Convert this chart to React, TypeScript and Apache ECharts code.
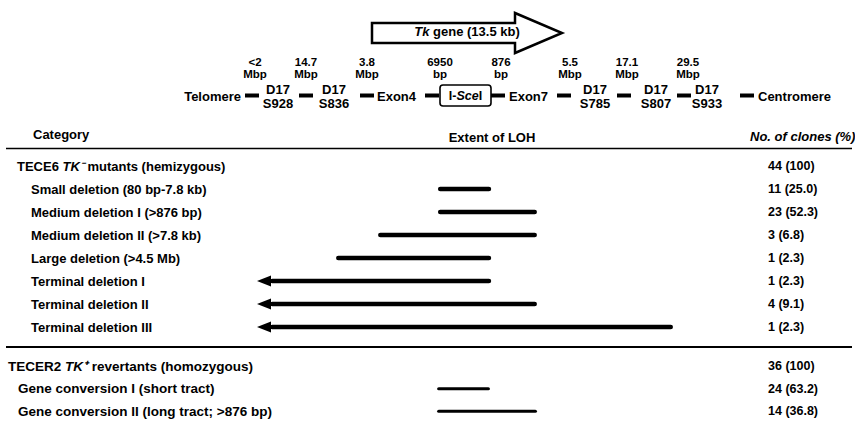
import { useEffect, useRef } from "react";
import * as echarts from "echarts";

// ---------- data ----------
const mutantRows = [
  "TECE6 TK⁻ mutants (hemizygous)",
  "Small deletion (80 bp-7.8 kb)",
  "Medium deletion I (>876 bp)",
  "Medium deletion II (>7.8 kb)",
  "Large deletion (>4.5 Mb)",
  "Terminal deletion I",
  "Terminal deletion II",
  "Terminal deletion III",
];
const mutantClones = ["44 (100)", "11 (25.0)", "23 (52.3)", "3 (6.8)", "1 (2.3)", "1 (2.3)", "4 (9.1)", "1 (2.3)"];
// extent of LOH along the map (0 = telomeric arrow tip, 100 = far end)
const mutantFrom = [null, 43.5, 43.5, 29.1, 19.0, 0, 0, 0];
const mutantTo = [null, 56.3, 67.3, 67.3, 56.3, 56.3, 67.3, 100];
const mutantTerminal = [0, 0, 0, 0, 0, 1, 1, 1];

const revertantRows = [
  "TECER2 TK⁺ revertants (homozygous)",
  "Gene conversion I (short tract)",
  "Gene conversion II (long tract; >876 bp)",
];
const revertantClones = ["36 (100)", "24 (63.2)", "14 (36.8)"];
const revertantFrom = [null, 43.3, 43.3];
const revertantTo = [null, 56.0, 67.3];

const distanceValues = ["<2", "14.7", "3.8", "6950", "876", "5.5", "17.1", "29.5"];
const distanceUnits = ["Mbp", "Mbp", "Mbp", "bp", "bp", "Mbp", "Mbp", "Mbp"];
const markerNames = ["D17 S928", "D17 S836", "D17 S785", "D17 S807", "D17 S933"];
const geneTitle = ["Tk", " gene (13.5 kb)"];
const columnTitles = ["Category", "Extent of LOH", "No. of clones (%)"];

// ---------- layout ----------
const FONT = '"Liberation Sans", Arial, Helvetica, sans-serif';
const GRID_LEFT = 257;
const GRID_RIGHT = 182;
const distanceX = [255, 306, 367, 440, 501, 570, 627, 688];
const dashX = [245, 299, 360, 425, 491, 557, 617, 677, 740];
const markerX = [278, 334, 595, 656, 707];

function headerRich(s: string) {
  const m = s.match(/^(.*?)(TK.)(.*)$/);
  if (!m) return `{h|${s}}`;
  return `{h|${m[1]}}{hi|${m[2]}}{h|${m[3]}}`;
}

function txt(text: string, x: number, y: number, size: number, align = "left", extra: any = {}) {
  return {
    type: "text",
    x,
    y,
    style: {
      text,
      fill: "#000",
      fontFamily: FONT,
      fontWeight: "bold",
      fontSize: size,
      align,
      verticalAlign: "middle",
      ...extra,
    },
  };
}

function bars(from: (number | null)[], to: (number | null)[], term: number[]) {
  const out: number[][] = [];
  from.forEach((f, i) => {
    if (f !== null && to[i] !== null) out.push([i, f, to[i] as number, term[i] || 0]);
  });
  return out;
}

function makeRender(thick: number) {
  return (_params: any, api: any) => {
    const row = api.value(0);
    const p0 = api.coord([api.value(1), row]);
    const p1 = api.coord([api.value(2), row]);
    const isTerm = api.value(3) === 1;
    const headLen = 14;
    const startX = isTerm ? p0[0] + headLen - 1 : p0[0];
    const children: any[] = [
      {
        type: "rect",
        shape: { x: startX, y: p0[1] - thick / 2, width: p1[0] - startX, height: thick, r: thick / 2 },
        style: { fill: "#000" },
      },
    ];
    if (isTerm) {
      children.push({
        type: "polygon",
        shape: {
          points: [
            [p0[0], p0[1]],
            [p0[0] + headLen, p0[1] - 5.5],
            [p0[0] + headLen, p0[1] + 5.5],
          ],
        },
        style: { fill: "#000" },
      });
    }
    return { type: "group", children };
  };
}

function leftAxis(grid: number, rows: string[], headerX: number, itemX: number, hSize: number, size: number) {
  return {
    gridIndex: grid,
    type: "category",
    data: rows,
    inverse: true,
    axisLine: { show: false },
    axisTick: { show: false },
    splitLine: { show: false },
    axisLabel: {
      interval: 0,
      align: "left",
      margin: GRID_LEFT - headerX,
      formatter: (v: string, i: number) => (i === 0 ? headerRich(v) : `{i|${v}}`),
      rich: {
        h: { fontFamily: FONT, fontWeight: "bold", fontSize: hSize, color: "#000" },
        hi: { fontFamily: FONT, fontWeight: "bold", fontStyle: "italic", fontSize: hSize, color: "#000" },
        i: { fontFamily: FONT, fontWeight: "bold", fontSize: size, color: "#000", padding: [0, 0, 0, itemX - headerX] },
      },
    },
  };
}

function rightAxis(grid: number, rows: string[], clones: string[]) {
  return {
    gridIndex: grid,
    type: "category",
    position: "right",
    data: rows,
    inverse: true,
    axisLine: { show: false },
    axisTick: { show: false },
    splitLine: { show: false },
    axisLabel: {
      interval: 0,
      align: "left",
      margin: 768 - (855 - GRID_RIGHT),
      formatter: (_v: string, i: number) => clones[i],
      fontFamily: FONT,
      fontWeight: "bold",
      fontSize: 12.5,
      color: "#000",
    },
  };
}

function buildOption() {
  const graphic: any[] = [];
  // gene arrow
  graphic.push({
    type: "polygon",
    shape: {
      points: [
        [372, 23],
        [515, 23],
        [515, 13],
        [562, 33],
        [515, 53],
        [515, 43],
        [372, 43],
      ],
    },
    style: { fill: "#fff", stroke: "#000", lineWidth: 2.5 },
  });
  graphic.push({
    type: "text",
    x: 467,
    y: 31,
    style: {
      text: `{it|${geneTitle[0]}}{n|${geneTitle[1]}}`,
      align: "center",
      verticalAlign: "middle",
      rich: {
        it: { fontFamily: FONT, fontWeight: "bold", fontStyle: "italic", fontSize: 13, fill: "#000" },
        n: { fontFamily: FONT, fontWeight: "bold", fontSize: 13, fill: "#000" },
      },
    },
  });
  // distances (two separate lines)
  distanceValues.forEach((d, i) => {
    graphic.push(txt(d, distanceX[i], 61.5, 11.5, "center"));
    graphic.push(txt(distanceUnits[i], distanceX[i], 73.5, 11.5, "center"));
  });
  // marker row
  const rowY = 96;
  graphic.push(txt("Telomere", 241, rowY, 13, "right"));
  dashX.forEach((x) => {
    graphic.push({ type: "rect", shape: { x, y: rowY - 2.5, width: 14, height: 4 }, style: { fill: "#000" } });
  });
  markerNames.forEach((m, i) => {
    const [a, b] = m.split(" ");
    graphic.push(txt(a, markerX[i], 89, 13, "center"));
    graphic.push(txt(b, markerX[i], 103.5, 13, "center"));
  });
  graphic.push(txt("Exon4", 377, rowY, 13, "left"));
  graphic.push({
    type: "rect",
    shape: { x: 440, y: 85, width: 51, height: 21, r: 3 },
    style: { fill: "none", stroke: "#000", lineWidth: 1.6 },
  });
  graphic.push({
    type: "text",
    x: 465.5,
    y: 96,
    style: {
      text: "{n|I-}{it|Sce}{n|I}",
      align: "center",
      verticalAlign: "middle",
      rich: {
        it: { fontFamily: FONT, fontWeight: "bold", fontStyle: "italic", fontSize: 12.5, fill: "#000" },
        n: { fontFamily: FONT, fontWeight: "bold", fontSize: 12.5, fill: "#000" },
      },
    },
  });
  graphic.push(txt("Exon7", 509, rowY, 13, "left"));
  graphic.push(txt("Centromere", 758, rowY, 13, "left"));
  // column titles
  graphic.push(txt(columnTitles[0], 33, 134, 13, "left"));
  graphic.push(txt(columnTitles[1], 492, 137, 13, "center"));
  graphic.push(txt(columnTitles[2], 750, 136, 13, "left", { fontStyle: "italic" }));
  // rules
  graphic.push({ type: "line", shape: { x1: 6, y1: 148.5, x2: 852, y2: 148.5 }, style: { stroke: "#000", lineWidth: 1.6 } });
  graphic.push({ type: "line", shape: { x1: 6, y1: 347, x2: 852, y2: 347 }, style: { stroke: "#000", lineWidth: 1.8 } });

  return {
    animation: false,
    backgroundColor: "#fff",
    grid: [
      { left: GRID_LEFT, right: GRID_RIGHT, top: 154.5, height: 184 },
      { left: GRID_LEFT, right: GRID_RIGHT, top: 355, height: 67.5 },
    ],
    xAxis: [
      { gridIndex: 0, type: "value", min: 0, max: 100, show: false },
      { gridIndex: 1, type: "value", min: 0, max: 100, show: false },
    ],
    yAxis: [
      leftAxis(0, mutantRows, 17, 31, 13, 13),
      rightAxis(0, mutantRows, mutantClones),
      leftAxis(1, revertantRows, 8, 18, 13.5, 13.5),
      rightAxis(1, revertantRows, revertantClones),
    ],
    series: [
      {
        type: "custom",
        xAxisIndex: 0,
        yAxisIndex: 0,
        encode: { x: [1, 2], y: 0 },
        data: bars(mutantFrom, mutantTo, mutantTerminal),
        renderItem: makeRender(4.6),
      },
      {
        type: "custom",
        xAxisIndex: 1,
        yAxisIndex: 2,
        encode: { x: [1, 2], y: 0 },
        data: bars(revertantFrom, revertantTo, [0, 0, 0]),
        renderItem: makeRender(3.2),
      },
    ],
    graphic,
  };
}

export default function App() {
  const ref = useRef<HTMLDivElement>(null);
  useEffect(() => {
    document.body.style.margin = "0";
    const chart = echarts.init(ref.current as HTMLDivElement, null, { renderer: "svg" });
    chart.setOption(buildOption() as any);
    return () => chart.dispose();
  }, []);
  return <div ref={ref} style={{ width: 855, height: 428, background: "#fff" }} />;
}
